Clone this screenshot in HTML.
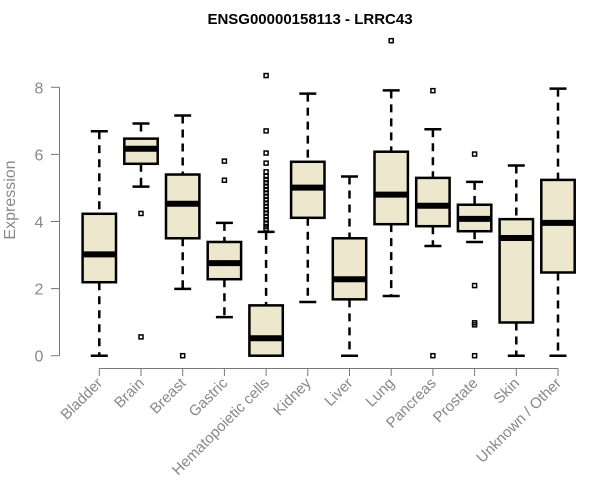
<!DOCTYPE html>
<html><head><meta charset="utf-8"><style>
body{margin:0;background:#fff}
svg{display:block;font-family:"Liberation Sans",Arial,sans-serif}
</style></head><body>
<svg id="chart" width="600" height="500" xmlns="http://www.w3.org/2000/svg">
<text x="310" y="24" text-anchor="middle" font-weight="bold" font-size="15">ENSG00000158113 - LRRC43</text>
<text transform="translate(15,200) rotate(-90)" text-anchor="middle" font-size="16" fill="#888">Expression</text>
<g id="axes"></g><g id="boxes"></g>
</svg>
<script>
const categories=["Bladder","Brain","Breast","Gastric","Hematopoietic cells","Kidney","Liver","Lung","Pancreas","Prostate","Skin","Unknown / Other"];
const whiskerLow=[0,5.04,1.99,1.15,0,1.60,0,1.78,3.27,3.39,0,0];
const q1=[2.19,5.72,3.50,2.28,0,4.11,1.68,3.92,3.86,3.71,0.99,2.48];
const medians=[3.02,6.17,4.53,2.76,0.52,5.01,2.28,4.80,4.47,4.08,3.51,3.96];
const q3=[4.23,6.47,5.40,3.39,1.50,5.78,3.50,6.08,5.30,4.50,4.07,5.24];
const whiskerHigh=[6.69,6.92,7.16,3.96,3.69,7.81,5.34,7.91,6.75,5.18,5.67,7.96];
const outliers=[[],[4.24,0.56],[0],[5.80,5.23],[8.35,6.70,6.04,5.74,5.48,5.35,5.25,5.15,5.05,4.95,4.85,4.75,4.65,4.55,4.45,4.35,4.25,4.15,4.05,3.95,3.85,3.78],[],[],[9.39],[7.90,0],[6.01,2.09,0.98,0.92,0],[],[]];
const yTicks=[0,2,4,6,8];
const NS="http://www.w3.org/2000/svg";
const y=v=>355.7-v*33.55;
const x=i=>99.3+i*41.7;
function mk(parent,tag,attrs){const e=document.createElementNS(NS,tag);for(const k in attrs)e.setAttribute(k,attrs[k]);parent.appendChild(e);return e;}
const ax=document.getElementById('axes'),bx=document.getElementById('boxes');
const yl=mk(ax,'line',{x1:59.5,x2:59.5,y1:y(8),y2:y(0),stroke:'#777'});


yTicks.forEach(t=>{
 const l=mk(ax,'line',{x1:51,x2:59.5,y1:y(t),y2:y(t),stroke:'#777'});
 
 
 const tx=mk(ax,'text',{x:39,y:y(t)+6,'text-anchor':'middle','font-size':16,fill:'#888'});
 tx.textContent=t;
 
 
});
const xl=mk(ax,'line',{x1:x(0),x2:x(11),y1:368.5,y2:368.5,stroke:'#777'});


categories.forEach((c,i)=>{
 const cx=x(i);
 const t=mk(ax,'line',{x1:cx,x2:cx,y1:368.5,y2:376,stroke:'#777'});
 
 
 const lb=mk(ax,'text',{transform:`translate(${cx+4},${384}) rotate(-45)`,'text-anchor':'end','font-size':15,fill:'#888'});
 lb.textContent=c;
 
 
 const g=mk(bx,'g',{});
 
 
 mk(g,'line',{x1:cx,x2:cx,y1:y(whiskerHigh[i]),y2:y(q3[i]),stroke:'#000','stroke-width':2.5,'stroke-dasharray':'8,6'});
 mk(g,'line',{x1:cx,x2:cx,y1:y(q1[i]),y2:y(whiskerLow[i]),stroke:'#000','stroke-width':2.5,'stroke-dasharray':'8,6'});
 mk(g,'line',{x1:cx-8.5,x2:cx+8.5,y1:y(whiskerHigh[i]),y2:y(whiskerHigh[i]),stroke:'#000','stroke-width':2.5});
 mk(g,'line',{x1:cx-8.5,x2:cx+8.5,y1:y(whiskerLow[i]),y2:y(whiskerLow[i]),stroke:'#000','stroke-width':2.5});
 mk(g,'rect',{x:cx-16.7,y:y(q3[i]),width:33.4,height:y(q1[i])-y(q3[i]),fill:'#ede7cd',stroke:'#000','stroke-width':2.5});
 mk(g,'line',{x1:cx-16.7,x2:cx+16.7,y1:y(medians[i]),y2:y(medians[i]),stroke:'#000','stroke-width':6});
 outliers[i].forEach(v=>{
  const o=mk(g,'rect',{x:cx-2,y:y(v)-2,width:4,height:4,fill:'none',stroke:'#000','stroke-width':1.5});
  
  
 });
});
</script>
</body></html>
